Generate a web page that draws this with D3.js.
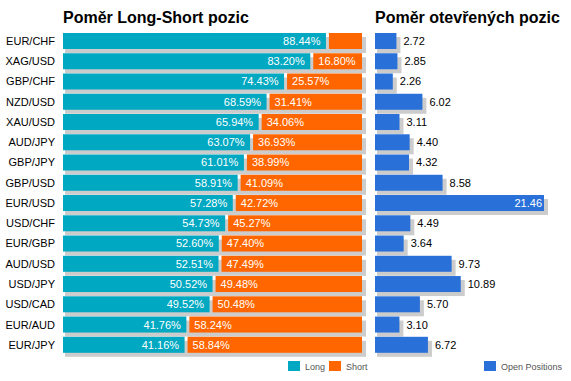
<!DOCTYPE html>
<html><head><meta charset="utf-8">
<script src="https://cdn.jsdelivr.net/npm/d3@7"></script>
<style>body{margin:0;background:#fff}svg{display:block}text{font-family:Arial,"Liberation Sans",sans-serif}</style>
</head><body><svg id="c" width="571" height="381"></svg>
<script>
const pairs = ["EUR/CHF","XAG/USD","GBP/CHF","NZD/USD","XAU/USD","AUD/JPY","GBP/JPY","GBP/USD","EUR/USD","USD/CHF","EUR/GBP","AUD/USD","USD/JPY","USD/CAD","EUR/AUD","EUR/JPY"];
const longPct = [88.44,83.20,74.43,68.59,65.94,63.07,61.01,58.91,57.28,54.73,52.60,52.51,50.52,49.52,41.76,41.16];
const shortPct = [11.56,16.80,25.57,31.41,34.06,36.93,38.99,41.09,42.72,45.27,47.40,47.49,49.48,50.48,58.24,58.84];
const openPos = [2.72,2.85,2.26,6.02,3.11,4.40,4.32,8.58,21.46,4.49,3.64,9.73,10.89,5.70,3.10,6.72];
const titles = ["Poměr Long-Short pozic","Poměr otevřených pozic"];
const legendLS = ["Long","Short"];
const legendOP = ["Open Positions"];

const C = {teal:"#00A8C1", orange:"#FF6600", blue:"#2A70D9", shadow:"#CCCCCC"};
const svg = d3.select("#c");
const y = d3.scaleBand().domain(pairs).range([33,353]).paddingInner(0.2).paddingOuter(0);
const x = d3.scaleLinear().domain([0,100]).range([63,362]);
const xo = d3.scaleLinear().domain([0,21.46]).range([375,544]);
const bh = 16;

// titles
svg.append("text").attr("x",63).attr("y",23).attr("font-size",16).attr("font-weight","bold").attr("fill","#000").text(titles[0]);
svg.append("text").attr("x",375).attr("y",23).attr("font-size",16).attr("font-weight","bold").attr("fill","#000").text(titles[1]);

const rows = pairs.map((p,i)=>({p,l:longPct[i],s:shortPct[i],o:openPos[i]}));

// left shadows
svg.append("g").selectAll("rect").data(rows).join("rect")
  .attr("x",x(0)+2).attr("y",d=>y(d.p)+4).attr("width",x(100)-x(0)+2).attr("height",bh).attr("fill",C.shadow);
// long
svg.append("g").selectAll("rect").data(rows).join("rect")
  .attr("x",x(0)).attr("y",d=>y(d.p)).attr("width",d=>x(d.l)-x(0)-1.5).attr("height",bh).attr("fill",C.teal);
// short
svg.append("g").selectAll("rect").data(rows).join("rect")
  .attr("x",d=>x(d.l)+1.5).attr("y",d=>y(d.p)).attr("width",d=>x(100)-x(d.l)-1.5).attr("height",bh).attr("fill",C.orange);

// pair labels
svg.append("g").selectAll("text").data(rows).join("text")
  .attr("x",55).attr("y",d=>y(d.p)+bh/2).attr("dy","0.36em").attr("text-anchor","end")
  .attr("font-size",11).attr("fill","#000").text(d=>d.p);
// long labels
svg.append("g").selectAll("text").data(rows).join("text")
  .attr("x",d=>x(d.l)-7).attr("y",d=>y(d.p)+bh/2).attr("dy","0.36em").attr("text-anchor","end")
  .attr("font-size",11).attr("fill","#fff").text(d=>d.l.toFixed(2)+"%");
// short labels (only where the segment is wide enough)
svg.append("g").selectAll("text").data(rows.filter(d=>(x(100)-x(d.l))>45)).join("text")
  .attr("x",d=>x(d.l)+6.5).attr("y",d=>y(d.p)+bh/2).attr("dy","0.36em").attr("text-anchor","start")
  .attr("font-size",11).attr("fill","#fff").text(d=>d.s.toFixed(2)+"%");

// right shadows
svg.append("g").selectAll("rect").data(rows).join("rect")
  .attr("x",xo(0)+2).attr("y",d=>y(d.p)+4).attr("width",d=>xo(d.o)-xo(0)+2).attr("height",bh).attr("fill",C.shadow);
svg.append("g").selectAll("rect").data(rows).join("rect")
  .attr("x",xo(0)).attr("y",d=>y(d.p)).attr("width",d=>xo(d.o)-xo(0)).attr("height",bh).attr("fill",C.blue);
const inside = d => xo(d.o) + 7 + 30 > 571;
svg.append("g").selectAll("text").data(rows).join("text")
  .attr("x",d=>inside(d) ? xo(d.o)-2 : xo(d.o)+7).attr("y",d=>y(d.p)+bh/2).attr("dy","0.36em")
  .attr("text-anchor",d=>inside(d)?"end":"start")
  .attr("font-size",11).attr("fill",d=>inside(d)?"#fff":"#000").text(d=>d.o.toFixed(2));

// legends
const leg = [{t:legendLS[0],c:C.teal,x:288},{t:legendLS[1],c:C.orange,x:329},{t:legendOP[0],c:C.blue,x:484}];
const lg = svg.append("g").selectAll("g").data(leg).join("g");
lg.append("rect").attr("x",d=>d.x).attr("y",361).attr("width",12).attr("height",10).attr("fill",d=>d.c);
lg.append("text").attr("x",d=>d.x+17).attr("y",369.5).attr("font-size",9).attr("fill","#555").text(d=>d.t);
</script></body></html>
